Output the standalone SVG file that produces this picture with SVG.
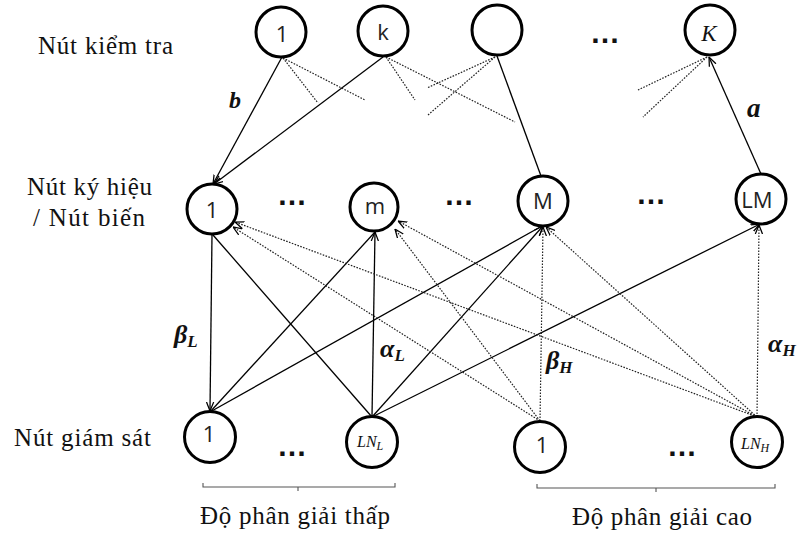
<svg xmlns="http://www.w3.org/2000/svg" width="801" height="535" viewBox="0 0 801 535">
  <style>
    .node { fill: #fff; stroke: #000; stroke-width: 3; }
    .lbl { font-family: "Open Sans", "Liberation Sans", sans-serif; font-weight: 400; font-size: 22px; fill: #222; text-anchor: middle; }
    .math { font-family: "Liberation Serif", "DejaVu Serif", serif; font-style: italic; fill: #111; }
    .side { font-family: "Liberation Serif", "DejaVu Serif", serif; font-size: 25px; fill: #111; }
    .dots { font-family: "Liberation Sans", sans-serif; font-weight: bold; font-size: 30px; fill: #111; text-anchor: middle; }
    .sym { font-family: "Liberation Serif", "DejaVu Serif", serif; font-style: italic; font-weight: bold; fill: #111; }
    .solid { fill: none; stroke: #000; stroke-width: 1.3; }
    .dotted { fill: none; stroke: #222; stroke-width: 1.2; stroke-dasharray: 1.6 1.4; }
    .brace { fill: none; stroke: #555; stroke-width: 1.1; }
  </style>
  <defs>
    <marker id="arrow" viewBox="0 0 10 10" refX="10" refY="5" markerWidth="9" markerHeight="9" markerUnits="userSpaceOnUse" orient="auto">
      <path d="M0,1 L10,5 L0,9" fill="none" stroke="#000" stroke-width="1.4"/>
    </marker>
  </defs>

  <rect width="801" height="535" fill="#fff"/>

  <!-- row captions -->
  <g id="captions">
    <text class="side" x="38" y="54" textLength="135">Nút kiểm tra</text>
    <text class="side" x="27" y="195" textLength="125">Nút ký hiệu</text>
    <text class="side" x="33" y="226" textLength="112">/ Nút biến</text>
    <text class="side" x="14" y="446" textLength="137">Nút giám sát</text>
  </g>

  <!-- connectors -->
  <g id="connectors">
    <!-- check nodes to variable nodes -->
    <line class="solid" x1="282" y1="57" x2="213" y2="184" marker-end="url(#arrow)"/>
    <line class="solid" x1="383" y1="57" x2="214" y2="184" marker-end="url(#arrow)"/>
    <line class="solid" x1="497" y1="56" x2="541" y2="176"/>
    <line class="solid" x1="761" y1="174" x2="709" y2="57" marker-end="url(#arrow)"/>
    <!-- partial dotted edges from check nodes -->
    <line class="dotted" x1="283" y1="58" x2="318" y2="103"/>
    <line class="dotted" x1="283" y1="58" x2="365" y2="100"/>
    <line class="dotted" x1="386" y1="57" x2="415" y2="100"/>
    <line class="dotted" x1="386" y1="57" x2="515" y2="122"/>
    <line class="dotted" x1="495" y1="57" x2="427" y2="88"/>
    <line class="dotted" x1="495" y1="57" x2="428" y2="115"/>
    <line class="dotted" x1="707" y1="57" x2="638" y2="90"/>
    <line class="dotted" x1="707" y1="57" x2="643" y2="117"/>

    <!-- low-resolution monitors (solid) -->
    <line class="solid" x1="212" y1="235" x2="210" y2="411" marker-end="url(#arrow)"/>
    <line class="solid" x1="213" y1="235" x2="372" y2="417"/>
    <line class="solid" x1="210" y1="412" x2="375" y2="232"/>
    <line class="solid" x1="372" y1="417" x2="375" y2="232" marker-end="url(#arrow)"/>
    <line class="solid" x1="210" y1="412" x2="542" y2="226"/>
    <line class="solid" x1="372" y1="417" x2="543" y2="226" marker-end="url(#arrow)"/>
    <line class="solid" x1="372" y1="417" x2="760" y2="224" marker-end="url(#arrow)"/>

    <!-- high-resolution monitors (dotted) -->
    <line class="dotted" x1="540" y1="421" x2="233" y2="227" marker-end="url(#arrow)"/>
    <line class="dotted" x1="757" y1="417" x2="235" y2="222" marker-end="url(#arrow)"/>
    <line class="dotted" x1="540" y1="421" x2="395" y2="229" marker-end="url(#arrow)"/>
    <line class="dotted" x1="757" y1="417" x2="398" y2="221" marker-end="url(#arrow)"/>
    <line class="dotted" x1="540" y1="421" x2="543" y2="227" marker-end="url(#arrow)"/>
    <line class="dotted" x1="757" y1="417" x2="546" y2="227" marker-end="url(#arrow)"/>
    <line class="dotted" x1="757" y1="417" x2="759" y2="225" marker-end="url(#arrow)"/>
  </g>

  <!-- edge labels -->
  <g id="edge-labels">
    <text class="sym" x="229" y="108" font-size="24">b</text>
    <text class="sym" x="747" y="117" font-size="27">a</text>
    <text class="sym" x="174" y="343" font-size="26">β<tspan font-size="17" dy="4">L</tspan></text>
    <text class="sym" x="380" y="357" font-size="26">α<tspan font-size="17" dy="4">L</tspan></text>
    <text class="sym" x="546" y="369" font-size="26">β<tspan font-size="17" dy="4">H</tspan></text>
    <text class="sym" x="768" y="352" font-size="26">α<tspan font-size="17" dy="4">H</tspan></text>
  </g>

  <!-- check nodes -->
  <g id="check-1"><circle class="node" cx="281" cy="32" r="25"/><text class="lbl" x="282" y="42">1</text></g>
  <g id="check-k"><circle class="node" cx="383" cy="31" r="25"/><text class="lbl" x="383" y="40">k</text></g>
  <g id="check-3"><circle class="node" cx="497" cy="30" r="25"/></g>
  <g id="check-K"><circle class="node" cx="710" cy="30" r="25"/><text class="math" x="709" y="41" font-size="23" text-anchor="middle">K</text></g>

  <!-- variable nodes -->
  <g id="var-1"><circle class="node" cx="212" cy="209" r="25"/><text class="lbl" x="212" y="218">1</text></g>
  <g id="var-m"><circle class="node" cx="374" cy="207" r="24"/><text class="lbl" x="375" y="214">m</text></g>
  <g id="var-M"><circle class="node" cx="543" cy="201" r="25"/><text class="lbl" x="543" y="209">M</text></g>
  <g id="var-LM"><circle class="node" cx="761" cy="199" r="25"/><text class="lbl" x="757" y="208">LM</text></g>

  <!-- monitor nodes -->
  <g id="mon-L1"><circle class="node" cx="210" cy="437" r="25.5"/><text class="lbl" x="209" y="442">1</text></g>
  <g id="mon-LNL"><circle class="node" cx="372" cy="442" r="25.5"/><text class="math" x="357" y="447" font-size="16">LN<tspan font-size="12" dy="3">L</tspan></text></g>
  <g id="mon-H1"><circle class="node" cx="540" cy="447" r="25.5"/><text class="lbl" x="542" y="453">1</text></g>
  <g id="mon-LNH"><circle class="node" cx="757" cy="442" r="25.5"/><text class="math" x="741" y="449" font-size="16">LN<tspan font-size="12" dy="3">H</tspan></text></g>

  <!-- ellipses -->
  <g id="ellipses">
    <text class="dots" x="605" y="43">…</text>
    <text class="dots" x="292" y="205">…</text>
    <text class="dots" x="459" y="205">…</text>
    <text class="dots" x="651" y="204">…</text>
    <text class="dots" x="292" y="456">…</text>
    <text class="dots" x="682" y="456">…</text>
  </g>

  <!-- resolution groups -->
  <g id="group-low">
    <path class="brace" d="M203,483 V487 H395 V483 M298,487 V491"/>
    <text class="side" x="200" y="524" textLength="190">Độ phân giải thấp</text>
  </g>
  <g id="group-high">
    <path class="brace" d="M537,484 V488 H775 V484 M656,488 V492"/>
    <text class="side" x="572" y="525" textLength="180">Độ phân giải cao</text>
  </g>
</svg>
